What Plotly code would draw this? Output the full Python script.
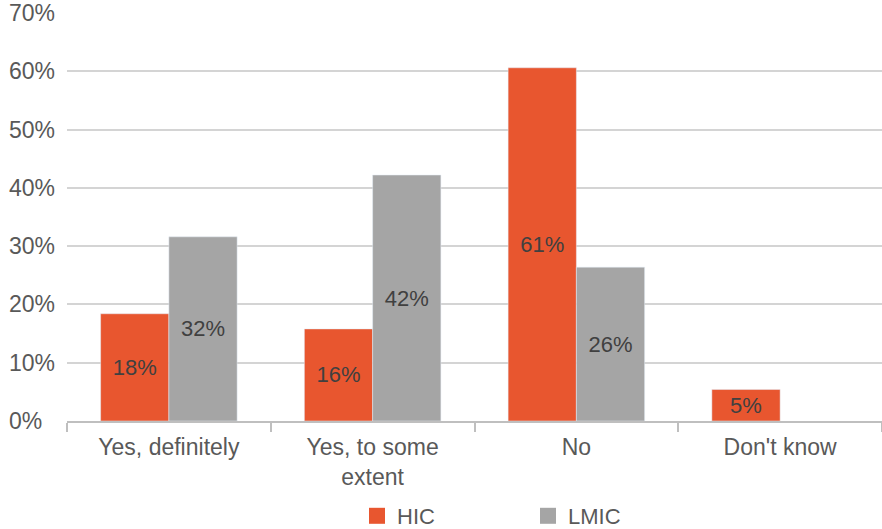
import plotly.graph_objects as go

categories = ["Yes, definitely", "Yes, to some<br>extent", "No", "Don't know"]
hic = [18.4, 15.8, 60.6, 5.4]
lmic = [31.6, 42.2, 26.4, None]
y_ticks = [0, 10, 20, 30, 40, 50, 60, 70]

FONT = "Liberation Sans, Arial, sans-serif"
TEXT_GREY = "#595959"
HIC_COLOR = "#E8562F"
LMIC_COLOR = "#A5A5A5"

W, H = 882, 529
ML, MR, MT, MB = 67, 0, 13, 108
plot_w = W - ML - MR
plot_h = H - MT - MB

fig = go.Figure()
for name, vals, color in [("HIC", hic, HIC_COLOR), ("LMIC", lmic, LMIC_COLOR)]:
    fig.add_trace(go.Bar(
        name=name, x=categories, y=vals, marker_color=color, showlegend=False,
        texttemplate="%{y:.0f}%", textposition="inside", insidetextanchor="middle",
        textfont=dict(color="#404040", size=22, family=FONT), textangle=0,
    ))
    # square swatch for the legend
    fig.add_trace(go.Scatter(
        name=name, x=[None], y=[None], mode="markers",
        marker=dict(symbol="square", size=16, color=color), showlegend=True,
    ))

# left-aligned percentage labels for the value axis
for v in y_ticks:
    fig.add_annotation(
        x=(7 - ML) / plot_w, xref="paper", y=v, yref="y",
        text=f"{v}%", showarrow=False, xanchor="left", yanchor="middle",
        font=dict(size=23, color=TEXT_GREY, family=FONT),
    )

fig.update_layout(
    width=W, height=H,
    margin=dict(l=ML, r=MR, t=MT, b=MB, autoexpand=False),
    barmode="group", bargap=0.33, bargroupgap=0,
    plot_bgcolor="white", paper_bgcolor="white",
    font=dict(family=FONT, size=23, color=TEXT_GREY),
    legend=dict(
        orientation="h", x=(528 - ML) / plot_w, xanchor="center",
        y=-(516 - (H - MB)) / plot_h, yanchor="middle",
        entrywidth=126, entrywidthmode="pixels",
        font=dict(size=22, color=TEXT_GREY), itemwidth=30,
    ),
)
fig.update_xaxes(
    showgrid=False, showline=True, linecolor="#BFBFBF", linewidth=2,
    ticks="outside", tickson="boundaries", ticklen=9, tickcolor="#BFBFBF", tickwidth=2,
    tickfont=dict(size=23, color=TEXT_GREY), ticklabelstandoff=4,
)
fig.update_yaxes(
    range=[0, 70], tickvals=y_ticks, showticklabels=False,
    showgrid=True, gridcolor="#D4D4D4", gridwidth=2,
    zeroline=False, showline=False,
)

fig.write_html("out.html")
